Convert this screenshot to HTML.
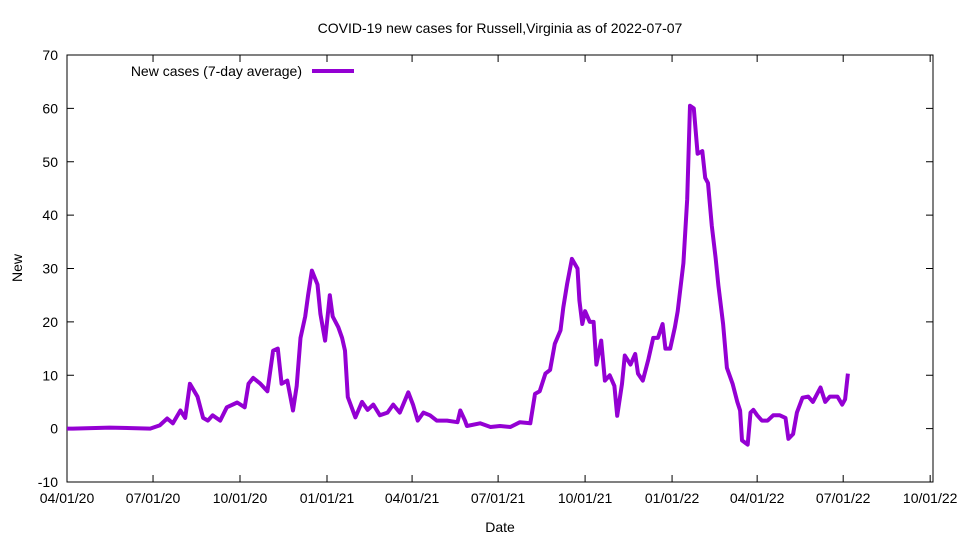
<!DOCTYPE html>
<html><head><meta charset="utf-8"><style>
body{margin:0;background:#fff}
svg{display:block;font-family:"Liberation Sans",sans-serif}
</style></head><body>
<svg id="chart" width="960" height="540" xmlns="http://www.w3.org/2000/svg">
<text x="500" y="33" text-anchor="middle" font-size="14">COVID-19 new cases for Russell,Virginia as of 2022-07-07</text>
<text x="500" y="532" text-anchor="middle" font-size="14">Date</text>
<text x="22" y="268" text-anchor="middle" font-size="14" transform="rotate(-90 22 268)">New</text>
<g id="axes"></g>
<rect x="67" y="55" width="866" height="427" fill="none" stroke="#000" stroke-width="1"/>
<g>
<text x="302" y="76" text-anchor="end" font-size="14">New cases (7-day average)</text>
<line x1="312" y1="71" x2="354" y2="71" stroke="#9400d3" stroke-width="4"/>
</g>
</svg>
<script>
const xTickLabels=["04/01/20","07/01/20","10/01/20","01/01/21","04/01/21","07/01/21","10/01/21","01/01/22","04/01/22","07/01/22","10/01/22"];
const xTickDays=[0,91,183,275,365,456,548,640,730,821,913];
const yTicks=[-10,0,10,20,30,40,50,60,70];
const days=[0,6,45,88,98,106,112,120,125,130,138,144,149,154,162,169,180,188,192,197,204,212,218,223,227,233,239,243,247,252,255,259,265,268,273,278,281,287,291,294,297,305,312,318,324,331,339,345,352,361,366,371,377,384,391,402,413,416,421,423,437,448,458,469,479,490,495,500,506,511,516,522,525,529,534,540,542,545,548,553,557,560,565,569,574,579,582,587,590,596,601,604,609,615,620,625,630,633,638,643,646,652,656,659,663,667,672,675,678,682,686,689,694,698,704,709,712,714,720,723,726,730,735,741,747,754,760,763,768,772,778,784,789,797,802,807,815,820,823,826];
const cases=[0,0,0.2,0,0.6,1.9,1,3.4,2,8.4,6,2,1.5,2.5,1.5,4,4.9,4,8.4,9.5,8.5,7,14.6,15,8.4,9,3.4,8,17,21,25,29.6,27,21.5,16.5,25,21,19,17,14.6,5.9,2.1,5,3.5,4.5,2.5,3,4.5,3,6.8,4.5,1.5,3,2.5,1.5,1.5,1.2,3.4,1.5,0.5,1,0.3,0.5,0.3,1.2,1,6.5,7,10.3,11,15.9,18.4,22.7,27.1,31.8,30,24,19.6,22,20,20,12,16.5,9,10,8,2.4,8.4,13.7,12,14,10.3,9,13,17,17,19.6,15,15,19,22,31,43,60.5,60,51.5,52,47,46,38,32,26.8,19.6,11.4,8.4,5,3.4,-2.2,-3,3,3.5,2.5,1.5,1.5,2.5,2.5,2,-1.9,-1,3,5.8,6,5,7.7,5,6,6,4.5,5.5,10.3];
const X0=67,X1=933,Y0=482,Y1=55,DMAX=916,VMIN=-10,VMAX=70;
const xs=d=>X0+(d/DMAX)*(X1-X0);
const ys=v=>Y0-(v-VMIN)/(VMAX-VMIN)*(Y0-Y1);
const NS="http://www.w3.org/2000/svg";
const svg=document.getElementById('chart');
const axes=document.getElementById('axes');
function mk(t,a){const e=document.createElementNS(NS,t);for(const k in a)e.setAttribute(k,a[k]);return e;}
yTicks.forEach(v=>{
  const y=ys(v);
  const t1=mk('line',{x1:X0,y1:y,x2:X0+7,y2:y,stroke:'#000'});
  
  
  axes.appendChild(t1);
  const t2=mk('line',{x1:X1-7,y1:y,x2:X1,y2:y,stroke:'#000'});
  
  
  axes.appendChild(t2);
  const tx=mk('text',{x:X0-9,y:y+5,'text-anchor':'end','font-size':14});
  
  
  tx.textContent=v;axes.appendChild(tx);
});
xTickDays.forEach((d,i)=>{
  const x=xs(d);
  const t1=mk('line',{x1:x,y1:Y0,x2:x,y2:Y0-7,stroke:'#000'});
  
  
  axes.appendChild(t1);
  const t2=mk('line',{x1:x,y1:Y1,x2:x,y2:Y1+7,stroke:'#000'});
  
  
  axes.appendChild(t2);
  const tx=mk('text',{x:x,y:503,'text-anchor':'middle','font-size':14});
  
  
  tx.textContent=xTickLabels[i];axes.appendChild(tx);
});
const n=Math.min(days.length,cases.length);
const pts=days.slice(0,n).map((d,i)=>xs(d).toFixed(1)+','+ys(cases[i]).toFixed(1)).join(' ');
const line=mk('polyline',{points:pts,fill:'none',stroke:'#9400d3','stroke-width':4,'stroke-linejoin':'round'});


svg.appendChild(line);
</script>
</body></html>
